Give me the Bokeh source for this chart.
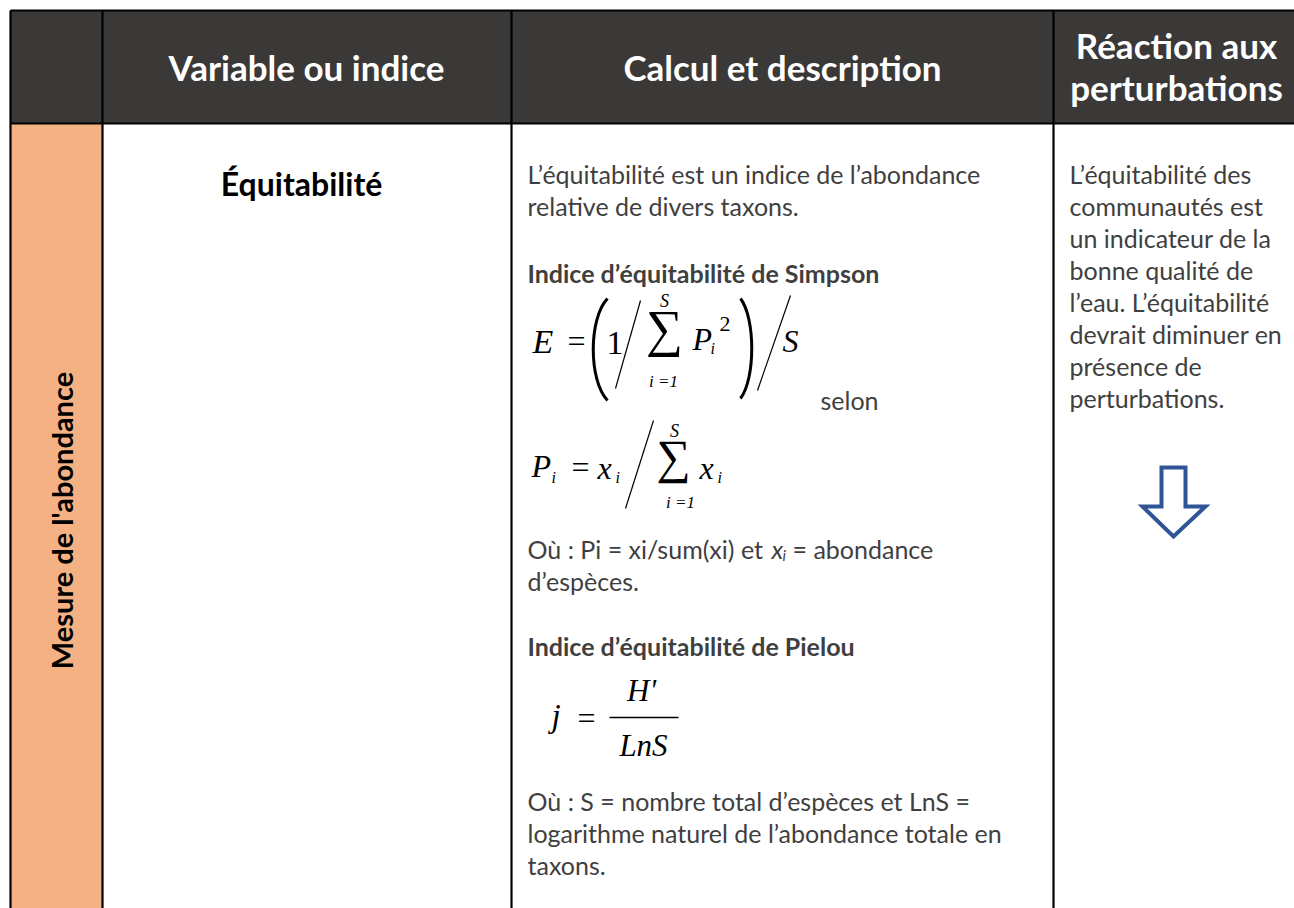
from bokeh.plotting import figure
from bokeh.models import Range1d
from bokeh.core.properties import value
from bokeh.embed import file_html
from bokeh.resources import INLINE
import math

# ---------------- content ----------------
header_labels = ["Variable ou indice", "Calcul et description"]
header_reaction = ["Réaction aux", "perturbations"]
group_label = "Mesure de l'abondance"
variable_label = "Équitabilité"
desc_intro = ["L’équitabilité est un indice de l’abondance",
              "relative de divers taxons."]
simpson_title = "Indice d’équitabilité de Simpson"
selon_word = "selon"
simpson_note = ["Où : Pi = xi/sum(xi) et", "x", "i", "= abondance", "d’espèces."]
pielou_title = "Indice d’équitabilité de Pielou"
pielou_note = ["Où : S = nombre total d’espèces et LnS =",
               "logarithme naturel de l’abondance totale en",
               "taxons."]
reaction_lines = ["L’équitabilité des", "communautés est", "un indicateur de la",
                  "bonne qualité de", "l’eau. L’équitabilité", "devrait diminuer en",
                  "présence de", "perturbations."]

# ---------------- styles ----------------
SANS = "Lato"
SERIF = "Liberation Serif"
HEAD_BG = "#3B3838"
ORANGE = "#F4B183"
BODY = "#3F3F3F"
BLUE = "#2F5597"
BODY_SIZE = 25

W, H = 1294, 908
X0, Y0 = 0, 0

p = figure(width=W, height=H, output_backend="svg", toolbar_location=None,
           x_range=Range1d(X0, X0 + W), y_range=Range1d(Y0 + H, Y0),
           x_axis_location=None, y_axis_location=None,
           min_border=0, min_border_left=0, min_border_right=0,
           min_border_top=0, min_border_bottom=0)
p.grid.visible = False
p.outline_line_color = None
p.background_fill_color = "white"
p.border_fill_color = "white"


def t(x, y, s, size, color=BODY, font=SANS, style="normal", align="left",
      baseline="middle", angle=0.0):
    p.text(x=[x], y=[y], text=[s], text_font=value(font),
           text_font_size=value(f"{size}px"), text_font_style=style,
           text_color=color, text_align=align, text_baseline=baseline,
           angle=angle)


def m(x, y, s, size, style="italic", align="left"):
    t(x, y, s, size, color="black", font=SERIF, style=style, align=align)


# cells
p.quad(left=[10], right=[1320], top=[10], bottom=[123], fill_color=HEAD_BG, line_color=None)
p.quad(left=[10], right=[102], top=[123], bottom=[920], fill_color=ORANGE, line_color=None)

# borders
p.multi_line(xs=[[10, 10], [10, 1320], [10, 1320], [102, 102], [511, 511], [1053, 1053]],
             ys=[[10, 920], [10, 10], [123, 123], [10, 920], [10, 920], [10, 920]],
             line_color="black", line_width=2.2)

# headers
t(306, 66, header_labels[0], 35, color="white", style="bold", align="center")
t(782, 66, header_labels[1], 35, color="white", style="bold", align="center")
t(1176, 44, header_reaction[0], 35, color="white", style="bold", align="center")
t(1176, 86, header_reaction[1], 35, color="white", style="bold", align="center")

# group label (vertical)
t(61, 520, group_label, 29, color="black", style="bold", align="center", angle=math.pi / 2)

# variable
t(301, 183, variable_label, 32, color="black", style="bold", align="center")

# description column
BX = 527
t(BX, 173, desc_intro[0], BODY_SIZE)
t(BX, 205, desc_intro[1], BODY_SIZE)
t(BX, 272, simpson_title, BODY_SIZE, style="bold")

# Simpson formula  E = (1 / sum P_i^2) / S
m(532, 341, "E", 34)
t(576, 340, "=", 32, color="black", font=SERIF, align="center")
p.bezier(x0=[607], y0=[298], x1=[607], y1=[400], cx0=[588], cy0=[318], cx1=[588], cy1=[380],
         line_color="black", line_width=3)
m(606, 342, "1", 34, style="normal")
p.segment(x0=[615], y0=[388], x1=[640], y1=[300], line_color="black", line_width=1.2)
m(664, 300, "S", 18, align="center")
t(664, 328, "∑", 52, color="black", font=SERIF, align="center")
m(663, 381, "i =1", 17, align="center")
m(692, 338, "P", 32)
m(710, 348, "i", 16)
m(719, 323, "2", 22, style="normal")
p.bezier(x0=[740], y0=[298], x1=[740], y1=[398], cx0=[755], cy0=[318], cx1=[755], cy1=[378],
         line_color="black", line_width=3)
p.segment(x0=[757], y0=[390], x1=[790], y1=[295], line_color="black", line_width=1.2)
m(782, 340, "S", 32)

t(820, 399, selon_word, BODY_SIZE)

# P_i = x_i / sum x_i
m(531, 465, "P", 32)
m(551, 477, "i", 16)
t(580, 466, "=", 32, color="black", font=SERIF, align="center")
m(597, 467, "x", 32)
m(615, 477, "i", 16)
p.segment(x0=[625], y0=[508], x1=[653], y1=[420], line_color="black", line_width=1.2)
m(674, 430, "S", 18, align="center")
t(673, 456, "∑", 48, color="black", font=SERIF, align="center")
m(680, 502, "i =1", 17, align="center")
m(699, 467, "x", 32)
m(717, 477, "i", 16)

# note
t(BX, 548, simpson_note[0], BODY_SIZE)
t(771, 548, simpson_note[1], BODY_SIZE, style="italic")
t(782, 554, simpson_note[2], 15, style="italic")
t(792, 548, simpson_note[3], BODY_SIZE)
t(BX, 580, simpson_note[4], BODY_SIZE)

t(BX, 645, pielou_title, BODY_SIZE, style="bold")

# Pielou formula j = H' / LnS
m(551, 715, "j", 33)
t(586, 717, "=", 32, color="black", font=SERIF, align="center")
p.segment(x0=[609], y0=[717], x1=[678], y1=[717], line_color="black", line_width=1.6)
m(641, 690, "H'", 31, align="center")
m(643, 745, "LnS", 31, align="center")

for i, s in enumerate(pielou_note):
    t(BX, 800 + 32 * i, s, BODY_SIZE)

# reaction column
for i, s in enumerate(reaction_lines):
    t(1069, 173 + 32 * i, s, BODY_SIZE)

# arrow
p.patch(x=[1161, 1185, 1185, 1205, 1173, 1142, 1161],
        y=[467, 467, 506, 506, 536, 506, 506],
        fill_color="white", line_color=BLUE, line_width=4, line_join="miter")

open("out.html", "w").write(file_html(p, INLINE))
